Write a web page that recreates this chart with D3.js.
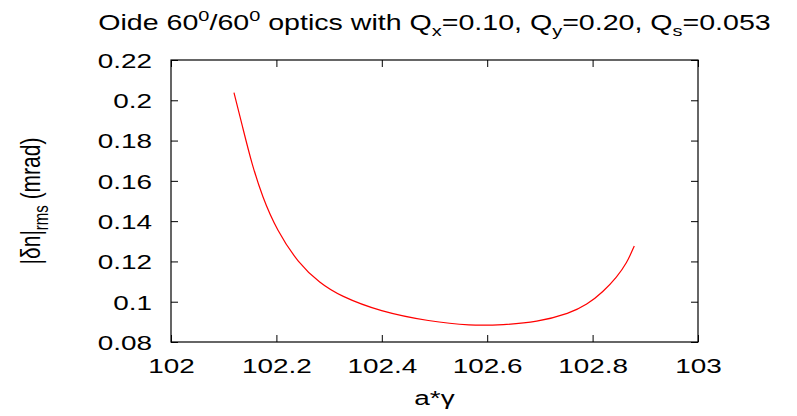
<!DOCTYPE html>
<html lang="en">
<head>
  <meta charset="UTF-8">
  <title>Oide 60/60 optics</title>
  <script src="https://d3js.org/d3.v7.min.js"></script>
  <style>
    body { margin: 0; background: #fff; }
    text { font-family: "Liberation Sans", Arial, sans-serif; fill: #000; }
    .frame { fill: none; stroke: #000; stroke-width: 1.2px; }
    .line { fill: none; stroke: #ff0000; stroke-width: 1.2px; }
  </style>
</head>
<body>
<div id="chart"></div>
<script>

// values
var gamma = [102.1195, 102.1372, 102.1531, 102.1733, 102.2005, 102.2416, 102.2827, 102.3207,
             102.3966, 102.4915, 102.5674, 102.6305, 102.6939, 102.7571, 102.7888,
             102.8203, 102.8457, 102.8647, 102.8791];
var dnRms = [0.2038, 0.1853, 0.1687, 0.1521, 0.1356, 0.1191, 0.1092, 0.1029,
             0.0951, 0.0902, 0.0881, 0.0885, 0.0898, 0.0943, 0.0984,
             0.1050, 0.1122, 0.1190, 0.1277];

var xTicks = [102, 102.2, 102.4, 102.6, 102.8, 103];
var yTicks = [0.08, 0.1, 0.12, 0.14, 0.16, 0.18, 0.2, 0.22];

var width = 797, height = 416;
var margin = {top: 60, right: 99, bottom: 74, left: 171};
var w = width - margin.left - margin.right,
    h = height - margin.top - margin.bottom;

// the picture is stretched sideways, so the text is too
var sx = 1.33;
function place(sel, px, py) {
  sel.attr("x", 0).attr("y", 0)
     .attr("transform", "translate(" + px + "," + py + ") scale(" + sx + ",1)");
}

var svg = d3.select("#chart").append("svg")
    .attr("width", width)
    .attr("height", height);

var g = svg.append("g").attr("transform", "translate(" + margin.left + "," + margin.top + ")");

var x = d3.scaleLinear().domain([102, 103]).range([0, w]);
var y = d3.scaleLinear().domain([0.08, 0.22]).range([h, 0]);

var tl = 7;
var fmt = function(d) { return String(+d.toFixed(2)); };

// ticks, inward, on all four sides
g.append("g")
    .attr("transform", "translate(0," + h + ")")
    .call(d3.axisBottom(x).tickValues(xTicks).tickSize(-tl).tickFormat(fmt))
    .call(function(a) {
      a.select(".domain").remove();
      a.selectAll("text").attr("dy", null).style("font-size", "21px")
        .each(function() { place(d3.select(this), 0, 31); });
    });
g.append("g")
    .call(d3.axisTop(x).tickValues(xTicks).tickSize(-tl).tickFormat(""))
    .call(function(a) { a.select(".domain").remove(); });
g.append("g")
    .call(d3.axisLeft(y).tickValues(yTicks).tickSize(-tl).tickFormat(fmt))
    .call(function(a) {
      a.select(".domain").remove();
      a.selectAll("text").attr("dy", "0.35em").style("font-size", "21px")
        .each(function() { place(d3.select(this), -19, 0); });
    });
g.append("g")
    .attr("transform", "translate(" + w + ",0)")
    .call(d3.axisRight(y).tickValues(yTicks).tickSize(-tl).tickFormat(""))
    .call(function(a) { a.select(".domain").remove(); });

g.selectAll(".tick line").attr("stroke", "#000");

g.append("rect").attr("class", "frame").attr("width", w).attr("height", h);

var line = d3.line()
    .curve(d3.curveBasis)
    .x(function(d, i) { return x(gamma[i]); })
    .y(function(d) { return y(d); });

g.append("path").datum(dnRms).attr("class", "line").attr("d", line);

// title
var t = svg.append("text")
    .attr("text-anchor", "middle")
    .style("font-size", "21.5px");
place(t, margin.left + w / 2, 30);
t.append("tspan").text("Oide 60");
t.append("tspan").attr("dy", -9).style("font-size", "15px").text("0");
t.append("tspan").attr("dy", 9).text("/60");
t.append("tspan").attr("dy", -9).style("font-size", "15px").text("0");
t.append("tspan").attr("dy", 9).text(" optics with Q");
t.append("tspan").attr("dy", 6).style("font-size", "15px").text("x");
t.append("tspan").attr("dy", -6).text("=0.10, Q");
t.append("tspan").attr("dy", 6).style("font-size", "15px").text("y");
t.append("tspan").attr("dy", -6).text("=0.20, Q");
t.append("tspan").attr("dy", 6).style("font-size", "15px").text("s");
t.append("tspan").attr("dy", -6).text("=0.053");

// x label
var xl = svg.append("text")
    .attr("text-anchor", "middle")
    .style("font-size", "21px")
    .text("a*\u03b3");
place(xl, margin.left + w / 2, 405);

// y label
var yl = svg.append("text")
    .attr("transform", "translate(40," + (margin.top + h / 2) + ") scale(" + sx + ",1) rotate(-90)")
    .attr("text-anchor", "middle")
    .style("font-size", "21px");
yl.append("tspan").text("|\u03b4n|");
yl.append("tspan").attr("dy", 6).style("font-size", "15px").text("rms");
yl.append("tspan").attr("dy", -6).text(" (mrad)");

</script>
</body>
</html>
